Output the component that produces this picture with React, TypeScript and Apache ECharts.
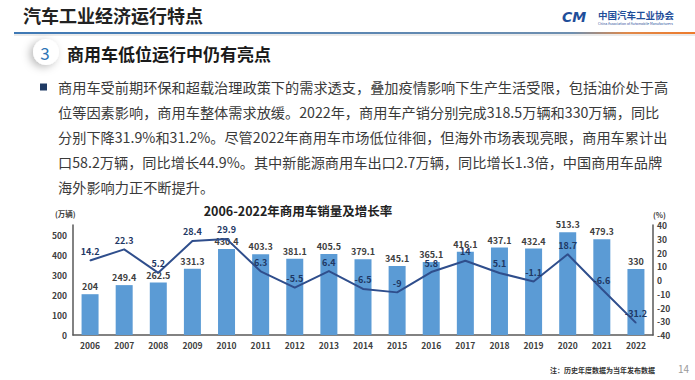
import React, { useEffect, useRef } from "react";
import * as echarts from "echarts";

const years = ["2006","2007","2008","2009","2010","2011","2012","2013","2014","2015","2016","2017","2018","2019","2020","2021","2022"];
const sales = [204, 249.4, 262.5, 331.3, 430.4, 403.3, 381.1, 405.5, 379.1, 345.1, 365.1, 416.1, 437.1, 432.4, 513.3, 479.3, 330];
const growth = [14.2, 22.3, 5.2, 28.4, 29.9, 6.3, -5.5, 6.4, -6.5, -9, 5.8, 14, 5.1, -1.1, 18.7, -6.6, -31.2];

const pageTitle = "汽车工业经济运行特点";
const sectionNo = "3";
const sectionTitle = "商用车低位运行中仍有亮点";
const paragraph = [
  "商用车受前期环保和超载治理政策下的需求透支，叠加疫情影响下生产生活受限，包括油价处于高",
  "位等因素影响，商用车整体需求放缓。2022年，商用车产销分别完成318.5万辆和330万辆，同比",
  "分别下降31.9%和31.2%。尽管2022年商用车市场低位徘徊，但海外市场表现亮眼，商用车累计出",
  "口58.2万辆，同比增长44.9%。其中新能源商用车出口2.7万辆，同比增长1.3倍，中国商用车品牌",
  "海外影响力正不断提升。",
];
const chartTitle = "2006-2022年商用车销量及增长率";
const leftUnit = "(万辆)";
const rightUnit = "(%)";
const note = "注：历史年度数据为当年发布数据";
const pageNo = "14";
const orgName = "中国汽车工业协会";
const orgEn = "China Association of Automobile Manufacturers";

const FF = "'Noto Sans CJK SC', 'Noto Sans', sans-serif";

export default function App() {
  const ref = useRef<HTMLDivElement>(null);
  useEffect(() => {
    if (!ref.current) return;
    const chart = echarts.init(ref.current, null, { renderer: "svg" });
    const lineYs = [87, 112, 137, 162, 187];
    const graphic: any[] = [
      {
        type: "text",
        style: { text: pageTitle, x: 23, y: 15, fontSize: 18, fontWeight: "bold", fontFamily: FF, fill: "#222", textVerticalAlign: "middle" },
      },
      {
        type: "text",
        style: { text: "CM", x: 562, y: 17, fontSize: 14, fontWeight: 900, fontStyle: "italic", fontFamily: "'DejaVu Sans', sans-serif", fill: "#1F4E9A", textVerticalAlign: "middle" },
      },
      {
        type: "text",
        style: { text: orgName, x: 598, y: 15, fontSize: 9.5, fontWeight: "bold", fontFamily: FF, fill: "#1F4E9A", textVerticalAlign: "middle" },
      },
      {
        type: "text",
        style: { text: orgEn, x: 598, y: 23.5, fontSize: 3.4, fontFamily: FF, fill: "#1F4E9A", textVerticalAlign: "middle" },
      },
      {
        type: "rect",
        shape: { x: 14, y: 34, width: 681, height: 2 },
        style: { fill: "rgba(0,0,0,0.08)" },
      },
      {
        type: "rect",
        shape: { x: 14, y: 32, width: 681, height: 2 },
        style: {
          fill: new echarts.graphic.LinearGradient(0, 0, 1, 0, [
            { offset: 0, color: "#3F79B5" },
            { offset: 0.82, color: "#6E8FB0" },
            { offset: 0.9, color: "#E0894A" },
            { offset: 1, color: "#EE7B2C" },
          ]),
        },
      },
      {
        type: "circle",
        shape: { cx: 46, cy: 52, r: 13 },
        style: { fill: "#fff", shadowBlur: 8, shadowColor: "rgba(0,0,0,0.28)", shadowOffsetX: -3, shadowOffsetY: 2 },
      },
      {
        type: "text",
        style: { text: sectionNo, x: 45, y: 52, fontSize: 17, fontFamily: FF, fill: "#2E75B6", textAlign: "center", textVerticalAlign: "middle" },
      },
      {
        type: "text",
        style: { text: sectionTitle, x: 67, y: 53, fontSize: 17, fontWeight: "bold", fontFamily: FF, fill: "#1a1a1a", textVerticalAlign: "middle" },
      },
      {
        type: "rect",
        shape: { x: 40, y: 83.5, width: 7, height: 7 },
        style: { fill: "#1F3A64" },
      },
      ...paragraph.map((t, i) => ({
        type: "text",
        style: { text: t, x: 58, y: lineYs[i], fontSize: 14.2, fontFamily: FF, fill: "#3a3a3a", textVerticalAlign: "middle" },
      })),
      {
        type: "text",
        style: { text: chartTitle, x: 298, y: 210, fontSize: 12.5, fontWeight: "bold", fontFamily: FF, fill: "#222", textAlign: "center", textVerticalAlign: "middle" },
      },
      {
        type: "text",
        style: { text: leftUnit, x: 55, y: 213, fontSize: 7.5, fontWeight: "bold", fontFamily: FF, fill: "#404040", textVerticalAlign: "middle" },
      },
      {
        type: "text",
        style: { text: rightUnit, x: 653, y: 214, fontSize: 7.5, fontWeight: "bold", fontFamily: FF, fill: "#404040", textVerticalAlign: "middle" },
      },
      {
        type: "text",
        style: { text: note, x: 550, y: 370, fontSize: 7, fontWeight: "bold", fontFamily: FF, fill: "#333", textVerticalAlign: "middle" },
      },
      {
        type: "text",
        style: { text: pageNo, x: 678, y: 368, fontSize: 10, fontFamily: FF, fill: "#9a9a9a", textVerticalAlign: "middle" },
      },
    ];

    const axisLabel = { fontSize: 8.5, fontWeight: "bold" as const, color: "#404040", fontFamily: FF };
    const axisLine = { show: true, lineStyle: { color: "#595959", width: 1.5 } };

    chart.setOption({
      animation: false,
      backgroundColor: "#ffffff",
      graphic,
      grid: { left: 73, right: 42, top: 225, bottom: 45, containLabel: false },
      xAxis: {
        type: "category",
        data: years,
        axisTick: { show: false },
        axisLine,
        axisLabel: { ...axisLabel, margin: 6 },
      },
      yAxis: [
        {
          type: "value",
          min: 0,
          max: 550,
          interval: 100,
          axisLine,
          axisTick: { show: false },
          splitLine: { show: false },
          axisLabel: { ...axisLabel, margin: 6, showMaxLabel: false },
        },
        {
          type: "value",
          min: -40,
          max: 40,
          interval: 10,
          position: "right",
          axisLine,
          axisTick: { show: false },
          splitLine: { show: false },
          axisLabel: { ...axisLabel, margin: 4 },
        },
      ],
      series: [
        {
          type: "bar",
          data: sales,
          barWidth: 17,
          itemStyle: { color: "#5B9BD5" },
          label: { show: true, position: "top", distance: 3, fontSize: 9, fontWeight: "bold", color: "#404040", fontFamily: FF },
        },
        {
          type: "line",
          yAxisIndex: 1,
          data: growth,
          symbol: "circle",
          symbolSize: 1,
          itemStyle: { color: "#2F4E8C" },
          lineStyle: { color: "#2F4E8C", width: 2 },
          label: { show: true, position: "top", distance: 4, fontSize: 9, fontWeight: "bold", color: "#1F3864", fontFamily: FF },
          z: 3,
        },
      ],
    });
    return () => chart.dispose();
  }, []);
  return (
    <div style={{ position: "fixed", left: 0, top: 0, width: 695, height: 380, background: "#fff" }}>
      <div ref={ref} style={{ width: 695, height: 380 }} />
    </div>
  );
}
